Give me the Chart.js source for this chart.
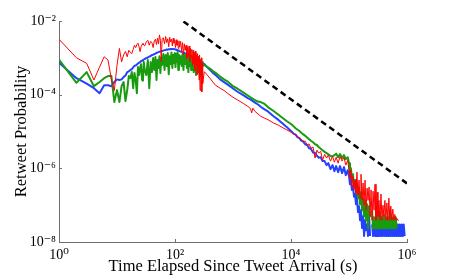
<!DOCTYPE html>
<html><head><meta charset="utf-8">
<script src="https://cdn.jsdelivr.net/npm/chart.js@4"></script>
<style>html,body{margin:0;padding:0;background:#fff}#wrap{width:450px;height:280px}</style>
</head><body><div id="wrap"><canvas id="c" width="450" height="280"></canvas></div>
<script>
// time grid (s)
const timeHead = [1,2,3,4,5,6,7,8,9,10,11,12,13,14,15,16,17,18,19,20,21,22,23,24,25,26,27,28,29,30,
  32,34,36,38,40,42,44,46,48,50,52,54,56,58,60,
  63,66,69,72,75,78,81,84,87,90,93,96,99,102,105,108,111,114,117,120,
  125,130,135,140,145,150,155,160,165,170,175,180,185,190,195,200,205,210,215,220,225,230,235,240,245,250,255,260,265,270,275,280,285,290,295,300];
const timeMid = [320,350,400,450,500,600,700,800,1000,1200,1500,1800,2000,2100,2200,2400,2700,3000,3500,4000,5000,6000,7000,8500];
const timeTail = [10000,11000,12000,13000,14000,15000,16000,17500,19000,20500,22000,24000,26000,28000,30000,32500,35000,38000,41000,44000,48000,52000,56000,60000,65000,70000,76000,82000,88000,95000,
  100000,104000,108000,112000,117000,122000,127000,132000,137000,143000,149000,155000,161000,168000,175000,182000,189000,197000,205000,213000,222000,231000,240000,250000,260000,270000,281000,292000,304000,316000,329000,342000,356000,370000,385000,400000,416000,433000,450000,468000,487000,506000,526000,547000,569000,592000,616000,640000,666000,693000,720000,749000,779000,810000,843000,877000,912000];

const redHead = [3.2e-3,1.0e-3,7.1e-4,2.5e-4,5.6e-4,1.07e-3,8.7e-4,2.6e-4,1.3e-4,6.3e-4,
  1.8e-3,7.8e-4,1.2e-3,1.5e-3,1.07e-3,1.6e-3,1.4e-3,1.3e-3,1.7e-3,2.2e-3,
  1.9e-3,2.3e-3,2.5e-3,2.0e-3,1.47e-3,2.0e-3,2.3e-3,2.5e-3,2.2e-3,2.1e-3,
  2.7e-3,3.0e-3,2.2e-3,2.8e-3,2.6e-3,1.9e-3,2.9e-3,3.2e-3,2.3e-3,3.4e-3,2.4e-3,4.2e-3,3.0e-3,8.0e-4,3.2e-3,
  3.5e-3,2.4e-3,3.8e-3,2.6e-3,3.3e-3,2.0e-3,3.6e-3,2.7e-3,3.2e-3,2.1e-3,
  3.4e-3,2.5e-3,3.0e-3,1.9e-3,3.1e-3,2.2e-3,2.8e-3,1.8e-3,2.9e-3,2.0e-3,
  2.8e-3,1.5e-3,2.6e-3,1.2e-3,2.4e-3,1.6e-3,2.2e-3,9.5e-4,2.0e-3,1.1e-3,
  2.1e-3,8.0e-4,1.8e-3,1.0e-3,1.7e-3,6.0e-4,1.6e-3,7.0e-4,1.4e-3,4.5e-4,
  1.5e-3,6.5e-4,1.2e-3,3.5e-4,1.3e-3,5.0e-4,1.1e-3,2.5e-4,1.2e-3,1.3e-4,
  9.0e-4,3.0e-4,1.0e-3,1.2e-4,7.0e-4,2.0e-4];
const redMid = [4.2e-4,3.6e-4,2.8e-4,2.2e-4,1.8e-4,1.5e-4,1.3e-4,1.1e-4,8.5e-5,7.2e-5,
  5.8e-5,4.8e-5,4.2e-5,3.2e-5,4.3e-5,3.5e-5,3.0e-5,2.6e-5,2.3e-5,2.1e-5,
  1.7e-5,1.5e-5,1.3e-5,1.1e-5];
const redTail = [9.6e-6,9.0e-6,7.8e-6,7.4e-6,6.4e-6,6.2e-6,5.3e-6,5.5e-6,4.3e-6,4.6e-6,
  3.5e-6,3.8e-6,1.9e-6,3.1e-6,2.6e-6,2.9e-6,1.65e-6,2.4e-6,1.9e-6,2.3e-6,
  1.57e-6,2.1e-6,1.47e-6,2.0e-6,1.38e-6,2.1e-6,1.57e-6,2.0e-6,1.22e-6,1.65e-6,
  8.9e-7,5.4e-7,8.9e-7,3.3e-7,6.1e-7,2.6e-7,4.8e-7,2.1e-7,7.9e-7,1.87e-7,
  4.8e-7,1.55e-7,6.9e-7,1.35e-7,4.0e-7,1.0e-7,4.8e-7,7.3e-8,2.9e-7,1.35e-7,
  3.1e-7,5.0e-8,2.6e-7,3.9e-8,2.4e-7,7.3e-8,3.7e-7,3.9e-8,2.25e-7,5.0e-8,
  1.35e-7,3.9e-8,2.0e-7,3.9e-8,1.0e-7,5.0e-8,1.35e-7,3.9e-8,1.15e-7,3.9e-8,
  1.55e-7,3.9e-8,9.4e-8,3.9e-8,7.8e-8,3.9e-8,5.6e-8,3.9e-8,4.4e-8,3.9e-8,
  3.9e-8,null,null,null,null,null,null];

const greenHead = [8.9e-4,2.1e-4,4.1e-4,1.7e-4,2.2e-4,2.8e-4,3.2e-4,3.2e-4,6.3e-5,1.33e-4,
  6.3e-5,1.7e-4,2.2e-4,6.7e-5,1.33e-4,3.2e-4,2.8e-4,4.1e-4,1.5e-4,3.9e-4,
  2.5e-4,1.1e-4,5.6e-4,3.4e-4,5.3e-4,6.7e-4,2.5e-4,2.4e-4,7.7e-4,4.7e-4,
  3.4e-4,8.7e-4,1.5e-4,7.7e-4,4.1e-4,9.9e-4,4.7e-4,1.05e-3,2.5e-4,8.7e-4,5.3e-4,1.1e-3,3.9e-4,9.9e-4,6.4e-4,
  1.27e-3,4.7e-4,1.2e-3,6.0e-4,1.35e-3,3.6e-4,1.1e-3,6.8e-4,1.4e-3,5.3e-4,
  1.2e-3,7.2e-4,1.35e-3,5.6e-4,1.27e-3,7.7e-4,1.45e-3,4.7e-4,1.2e-3,6.8e-4,
  1.1e-3,6.0e-4,1.27e-3,4.7e-4,1.2e-3,6.8e-4,1.27e-3,5.3e-4,1.1e-3,4.1e-4,
  1.2e-3,6.0e-4,1.05e-3,4.7e-4,1.1e-3,6.8e-4,1.05e-3,4.1e-4,9.9e-4,5.3e-4,
  9.9e-4,3.4e-4,9.3e-4,6.0e-4,9.3e-4,4.1e-4,8.7e-4,5.0e-4,8.7e-4,3.2e-4,
  8.2e-4,5.3e-4,7.7e-4,3.6e-4,7.7e-4,6.0e-4];
const greenMid = [6.4e-4,5.8e-4,5.1e-4,4.4e-4,3.9e-4,3.1e-4,2.6e-4,2.3e-4,1.7e-4,1.45e-4,
  1.15e-4,9.5e-5,8.5e-5,8.1e-5,7.7e-5,7.1e-5,6.5e-5,6.3e-5,5.6e-5,4.6e-5,
  3.6e-5,2.9e-5,2.4e-5,1.9e-5];
const greenTail = [1.6e-5,1.4e-5,1.23e-5,1.12e-5,1.03e-5,9.3e-6,8.5e-6,7.7e-6,6.9e-6,6.2e-6,
  5.6e-6,5.1e-6,4.5e-6,4.3e-6,3.8e-6,3.4e-6,3.1e-6,2.8e-6,2.6e-6,2.4e-6,
  2.15e-6,2.1e-6,2.28e-6,2.5e-6,2.0e-6,2.45e-6,1.9e-6,2.28e-6,1.78e-6,2.0e-6,
  1.38e-6,7.9e-7,1.0e-6,5.4e-7,6.9e-7,3.3e-7,4.8e-7,2.25e-7,3.7e-7,1.55e-7,
  2.9e-7,1.06e-7,2.25e-7,7.3e-8,1.55e-7,5.0e-8,1.35e-7,3.9e-8,1.06e-7,2.35e-8,
  9.4e-8,4.7e-8,null,7.3e-8,2.35e-8,4.7e-8,2.35e-8,9.4e-8,2.35e-8,4.7e-8,
  2.35e-8,6.5e-8,2.35e-8,4.7e-8,2.35e-8,5.6e-8,2.35e-8,4.7e-8,2.35e-8,4.7e-8,
  2.35e-8,7.3e-8,2.35e-8,4.7e-8,2.35e-8,4.7e-8,2.35e-8,4.7e-8,2.35e-8,null,
  null,null,null,null,null,null,null];

const blueHead = [7.4e-4,2.8e-4,2.0e-4,1.5e-4,1.1e-4,1.8e-4,1.8e-4,1.7e-4,2.2e-4,2.6e-4,
  2.5e-4,2.6e-4,3.0e-4,3.3e-4,4.1e-4,4.3e-4,4.7e-4,4.9e-4,5.5e-4,6.1e-4,
  6.2e-4,6.6e-4,7.0e-4,7.4e-4,7.6e-4,8.2e-4,8.3e-4,8.7e-4,9.0e-4,9.3e-4,
  9.8e-4,1.02e-3,1.08e-3,1.12e-3,1.2e-3,1.22e-3,1.27e-3,1.3e-3,1.36e-3,1.4e-3,1.43e-3,1.47e-3,1.48e-3,1.52e-3,1.54e-3,
  1.57e-3,1.62e-3,1.64e-3,1.68e-3,1.67e-3,1.71e-3,1.72e-3,1.74e-3,1.72e-3,1.75e-3,
  1.73e-3,1.72e-3,1.70e-3,1.68e-3,1.66e-3,1.62e-3,1.6e-3,1.57e-3,1.55e-3,1.52e-3,
  1.48e-3,1.45e-3,1.41e-3,1.38e-3,1.35e-3,1.32e-3,1.29e-3,1.26e-3,1.23e-3,1.2e-3,
  1.18e-3,1.15e-3,1.13e-3,1.1e-3,1.08e-3,1.05e-3,1.03e-3,1.01e-3,9.9e-4,9.7e-4,
  9.5e-4,9.3e-4,9.1e-4,9.0e-4,8.8e-4,8.6e-4,8.4e-4,8.3e-4,8.1e-4,8.0e-4,
  7.8e-4,7.7e-4,7.6e-4,7.4e-4,7.3e-4,7.2e-4];
const blueMid = [6.8e-4,5.8e-4,4.7e-4,3.9e-4,3.4e-4,2.6e-4,2.2e-4,1.9e-4,1.47e-4,1.2e-4,
  9.7e-5,8.1e-5,7.4e-5,7.0e-5,6.7e-5,6.1e-5,5.4e-5,4.7e-5,4.0e-5,3.5e-5,
  2.6e-5,2.1e-5,1.7e-5,1.3e-5];
const blueTail = [1.03e-5,8.8e-6,8.2e-6,6.9e-6,6.6e-6,5.6e-6,5.5e-6,4.5e-6,4.3e-6,3.5e-6,
  3.4e-6,2.7e-6,2.6e-6,2.2e-6,1.95e-6,2.0e-6,1.57e-6,1.57e-6,1.22e-6,1.38e-6,
  9.5e-7,1.22e-6,8.4e-7,1.15e-6,7.9e-7,1.15e-6,7.4e-7,1.08e-6,6.5e-7,8.9e-7,
  6.1e-7,3.7e-7,4.8e-7,2.6e-7,3.3e-7,1.7e-7,2.0e-7,1.06e-7,1.55e-7,6.5e-8,
  9.4e-8,3.9e-8,7.3e-8,2.4e-8,5.0e-8,1.45e-8,3.9e-8,2.1e-8,3.0e-8,1.45e-8,
  5.0e-8,1.45e-8,null,3.0e-8,1.45e-8,3.9e-8,1.45e-8,3.0e-8,1.45e-8,6.5e-8,
  1.45e-8,3.0e-8,1.45e-8,3.0e-8,1.45e-8,4.4e-8,1.45e-8,3.0e-8,1.45e-8,3.0e-8,
  1.45e-8,3.0e-8,1.45e-8,3.0e-8,1.45e-8,3.0e-8,1.45e-8,3.0e-8,1.45e-8,3.0e-8,
  1.45e-8,3.0e-8,1.45e-8,3.0e-8,1.45e-8,3.0e-8,1.45e-8];

// power-law guide (dashed)
const guideX = [140, 1e6];
const guideY = [9.7e-3, 3.9e-7];

const xTickValues = [1, 100, 1e4, 1e6];
const xTickLabels = ['10\u2070', '10\u00B2', '10\u2074', '10\u2076'];
const yTickValues = [1e-8, 1e-6, 1e-4, 1e-2];
const yTickLabels = ['10\u207B\u2078', '10\u207B\u2076', '10\u207B\u2074', '10\u207B\u00B2'];
const xTitle = 'Time Elapsed Since Tweet Arrival (s)';
const yTitle = 'Retweet Probability';

const timeAll = timeHead.concat(timeMid, timeTail);
function pts(parts) {
  const ys = [].concat(...parts);
  return timeAll.map((t, i) => ({x: t, y: (ys[i] === undefined ? null : ys[i])}));
}

const SERIF = "'Liberation Serif', 'DejaVu Serif', 'Times New Roman', serif";
const AXIS = '#6f6f6f';

const inwardTicks = {
  id: 'inwardTicks',
  afterDraw(chart) {
    const {ctx, chartArea: a, scales: {x, y}} = chart;
    ctx.save();
    ctx.strokeStyle = AXIS; ctx.lineWidth = 1; ctx.beginPath();
    xTickValues.forEach(v => { const p = Math.round(x.getPixelForValue(v)) + 0.5; ctx.moveTo(p, a.bottom); ctx.lineTo(p, a.bottom - 3); });
    yTickValues.forEach(v => { const p = Math.round(y.getPixelForValue(v)) + 0.5; ctx.moveTo(a.left, p); ctx.lineTo(a.left + 3, p); });
    ctx.stroke(); ctx.restore();
  }
};

new Chart(document.getElementById('c'), {
  type: 'line',
  data: {datasets: [
    {data: pts([redHead, redMid, redTail]), borderColor: '#ff0000', borderWidth: 1},
    {data: pts([greenHead, greenMid, greenTail]), borderColor: 'rgb(25,155,15)', borderWidth: 2},
    {data: pts([blueHead, blueMid, blueTail]), borderColor: 'rgb(35,65,255)', borderWidth: 2},
    {data: guideX.map((v, i) => ({x: v, y: guideY[i]})), borderColor: '#000', borderWidth: 2.5, borderDash: [6, 4]}
  ]},
  options: {
    responsive: false, animation: false, devicePixelRatio: 1,
    layout: {padding: {top: 21, right: 43, left: 0, bottom: 0}},
    elements: {point: {radius: 0}, line: {tension: 0, borderJoinStyle: 'round', fill: false}},
    plugins: {legend: {display: false}, tooltip: {enabled: false}},
    scales: {
      x: {
        type: 'logarithmic', min: 1, max: 1e6,
        afterBuildTicks: s => { s.ticks = xTickValues.map(v => ({value: v})); },
        afterFit: s => { s.height = 38; },
        ticks: {autoSkip: false, maxRotation: 0, padding: 5, color: '#000', font: {family: SERIF, size: 14},
          callback: v => { const i = xTickValues.indexOf(v); return i < 0 ? '' : xTickLabels[i]; }},
        grid: {display: true, drawOnChartArea: false, drawTicks: false},
        border: {display: true, color: AXIS, width: 1},
        title: {display: true, text: xTitle, color: '#000', font: {family: SERIF, size: 16.5}, padding: {top: 0, bottom: 3}}
      },
      y: {
        type: 'logarithmic', min: 1e-8, max: 1e-2,
        afterBuildTicks: s => { s.ticks = yTickValues.map(v => ({value: v})); },
        afterFit: s => { s.width = 59; },
        ticks: {autoSkip: false, padding: 3, color: '#000', font: {family: SERIF, size: 14},
          callback: v => { const i = yTickValues.indexOf(v); return i < 0 ? '' : yTickLabels[i]; }},
        grid: {display: true, drawOnChartArea: false, drawTicks: false},
        border: {display: true, color: AXIS, width: 1},
        title: {display: true, text: yTitle, color: '#000', font: {family: SERIF, size: 16.5}, padding: {top: 12, bottom: 0}}
      }
    }
  },
  plugins: [inwardTicks]
});
</script>
</body></html>
